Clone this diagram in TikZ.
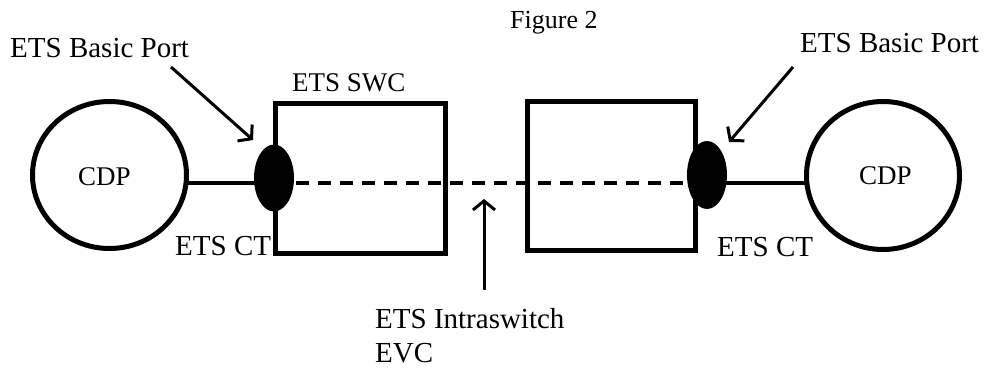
\documentclass[tikz,border=0pt]{standalone}
\usepackage{fontspec}
\setmainfont{Liberation Serif}
\usetikzlibrary{arrows.meta,shapes.geometric}
\begin{document}
\begin{tikzpicture}[x=1pt,y=-1pt,
  lbl/.style={font=\fontsize{29}{32}\selectfont, inner sep=0pt, anchor=base west},
  cdp/.style={draw, ellipse, line width=5pt, inner sep=0pt},
  swc/.style={draw, rectangle, line width=5pt, inner sep=0pt},
  port/.style={ellipse, fill=black, inner sep=0pt, minimum width=40pt, minimum height=67pt},
  conn/.style={line width=3.5pt},
  evc/.style={line width=3.5pt, dash pattern=on 13pt off 9pt},
  pointer/.style={line width=3pt, -{Straight Barb[length=9pt,width=22pt,line width=3pt]}}
]
\useasboundingbox (0,0) rectangle (986,369);

% boxes
\node[swc, minimum width=170pt, minimum height=149pt] (boxL) at (360,178.5) {};
\node[swc, minimum width=168pt, minimum height=148pt] (boxR) at (611,176) {};

% CDP circles
\node[cdp, minimum width=154pt, minimum height=147pt] (cdpL) at (109.5,175) {};
\node[cdp, minimum width=153pt, minimum height=148pt] (cdpR) at (883,175.5) {};
\node[lbl, font=\fontsize{27}{30}\selectfont] (cdpLt) at (78,185) {CDP};
\node[lbl, font=\fontsize{27}{30}\selectfont] (cdpRt) at (859,184.5) {CDP};

% port coordinates
\coordinate (pL) at (274,183);
\coordinate (pR) at (707,183);
\coordinate (cL) at (188,183);
\coordinate (cR) at (805,183);

% connectors
\draw[conn] (cL) -- (pL);
\draw[conn] (pR) -- (cR);
\draw[evc] (pL) -- (pR);

% ports
\node[port] (portL) at (274,178) {};
\node[port, minimum height=68pt] (portR) at (707,175) {};

% labels
\node[lbl, font=\fontsize{26}{30}\selectfont] (fig) at (510,29) {Figure 2};
\node[lbl] (bpL) at (10,57.5) {ETS Basic Port};
\node[lbl] (bpR) at (800,53) {ETS Basic Port};
\node[lbl, font=\fontsize{27}{30}\selectfont] (swct) at (292,92) {ETS SWC};
\node[lbl] (ctL) at (175,255) {ETS CT};
\node[lbl] (ctR) at (717,256) {ETS CT};
\node[lbl] (intra) at (375,328) {ETS Intraswitch};
\node[lbl] (evct) at (375,362) {EVC};

% pointer arrows
\coordinate (a1s) at (171,67);
\coordinate (a1e) at (253,140);
\coordinate (a2s) at (793,67);
\coordinate (a2e) at (729,142);
\coordinate (a3s) at (484,290);
\coordinate (a3e) at (484,199);
\draw[pointer] (a1s) -- (a1e);
\draw[pointer] (a2s) -- (a2e);
\draw[pointer] (a3s) -- (a3e);
\end{tikzpicture}
\end{document}
